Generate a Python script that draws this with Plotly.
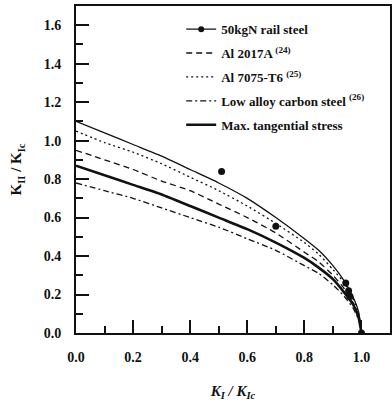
import plotly.graph_objects as go

# Data
k1 = [0.0, 0.1, 0.2, 0.3, 0.4, 0.5, 0.6, 0.7, 0.8, 0.85, 0.9, 0.94, 0.97, 0.99, 1.0]
rail_fit = [1.10, 1.04, 0.98, 0.92, 0.85, 0.78, 0.70, 0.60, 0.49, 0.43, 0.35, 0.27, 0.19, 0.11, 0.0]
al7075 = [1.05, 0.99, 0.94, 0.88, 0.81, 0.74, 0.66, 0.57, 0.47, 0.41, 0.33, 0.26, 0.18, 0.10, 0.0]
al2017 = [0.95, 0.90, 0.85, 0.79, 0.74, 0.67, 0.60, 0.52, 0.42, 0.37, 0.30, 0.23, 0.16, 0.09, 0.0]
mts = [0.87, 0.82, 0.77, 0.72, 0.66, 0.60, 0.54, 0.47, 0.39, 0.34, 0.28, 0.21, 0.15, 0.08, 0.0]
low_alloy = [0.78, 0.74, 0.70, 0.65, 0.60, 0.55, 0.49, 0.43, 0.35, 0.31, 0.25, 0.19, 0.13, 0.07, 0.0]

rail_x = [0.51, 0.70, 0.945, 0.955, 0.96, 1.0]
rail_y = [0.84, 0.555, 0.26, 0.22, 0.19, 0.0]

x_ticks = [0.0, 0.2, 0.4, 0.6, 0.8, 1.0]
x_labels = ["0.0", "0.2", "0.4", "0.6", "0.8", "1.0"]
y_ticks = [0.0, 0.2, 0.4, 0.6, 0.8, 1.0, 1.2, 1.4, 1.6]
y_labels = ["0.0", "0.2", "0.4", "0.6", "0.8", "1.0", "1.2", "1.4", "1.6"]

SERIF = "Liberation Serif"
BLACK = "#111111"
SHAPE = dict(shape="spline", smoothing=0.6)

fig = go.Figure()

fig.add_trace(go.Scatter(x=k1, y=rail_fit, mode="lines", showlegend=False,
                         line=dict(color=BLACK, width=1.3, **SHAPE), legendgroup="a"))
fig.add_trace(go.Scatter(x=rail_x, y=rail_y, mode="markers", showlegend=False,
                         marker=dict(color=BLACK, size=7), legendgroup="a"))
fig.add_trace(go.Scatter(x=[None], y=[None], mode="lines+markers", name="50kgN rail steel",
                         line=dict(color=BLACK, width=1.3), marker=dict(color=BLACK, size=6),
                         legendgroup="a"))
fig.add_trace(go.Scatter(x=k1, y=al2017, mode="lines", name="Al 2017A <sup>(24)</sup>",
                         line=dict(color=BLACK, width=1.3, dash="6px,4px", **SHAPE), legendgroup="b"))
fig.add_trace(go.Scatter(x=k1, y=al7075, mode="lines", name="Al 7075-T6 <sup>(25)</sup>",
                         line=dict(color=BLACK, width=1.3, dash="2px,3px", **SHAPE), legendgroup="c"))
fig.add_trace(go.Scatter(x=k1, y=low_alloy, mode="lines", name="Low alloy carbon steel <sup>(26)</sup>",
                         line=dict(color=BLACK, width=1.3, dash="6px,3px,2px,3px", **SHAPE), legendgroup="d"))
fig.add_trace(go.Scatter(x=k1, y=mts, mode="lines", name="Max. tangential stress",
                         line=dict(color=BLACK, width=2.6, **SHAPE), legendgroup="e"))

axis_common = dict(
    showgrid=False, zeroline=False, showline=True, linecolor=BLACK, linewidth=2,
    mirror=True, ticks="inside", ticklen=13, tickwidth=2, tickcolor=BLACK,
    tickfont=dict(family=SERIF, size=14, color=BLACK, weight="bold"),
    ticklabelstandoff=10,
)

fig.update_xaxes(range=[0, 1.1], tickvals=x_ticks, ticktext=x_labels,
                 minor=dict(dtick=0.1, tick0=0, ticks="inside", ticklen=7, tickwidth=1.5, tickcolor=BLACK),
                 title=dict(text="<i>K<sub>I</sub> / K<sub>Ic</sub></i>",
                            font=dict(family=SERIF, size=15, color=BLACK, weight="bold"), standoff=22),
                 **axis_common)
fig.update_yaxes(range=[0, 1.7], tickvals=y_ticks, ticktext=y_labels,
                 minor=dict(dtick=0.1, tick0=0, ticks="inside", ticklen=7, tickwidth=1.5, tickcolor=BLACK),
                 title=dict(text="K<sub>II</sub> / K<sub>Ic</sub>",
                            font=dict(family=SERIF, size=15, color=BLACK, weight="bold"), standoff=18),
                 **axis_common)

fig.update_layout(
    width=392, height=403,
    margin=dict(l=76, r=0, t=6, b=70),
    paper_bgcolor="white", plot_bgcolor="white",
    legend=dict(x=0.335, y=0.975, xanchor="left", yanchor="top",
                bgcolor="rgba(0,0,0,0)", traceorder="grouped", tracegroupgap=4,
                font=dict(family=SERIF, size=13, color=BLACK, weight="bold"),
                itemwidth=30),
    showlegend=True,
)

fig.write_html("out.html")
